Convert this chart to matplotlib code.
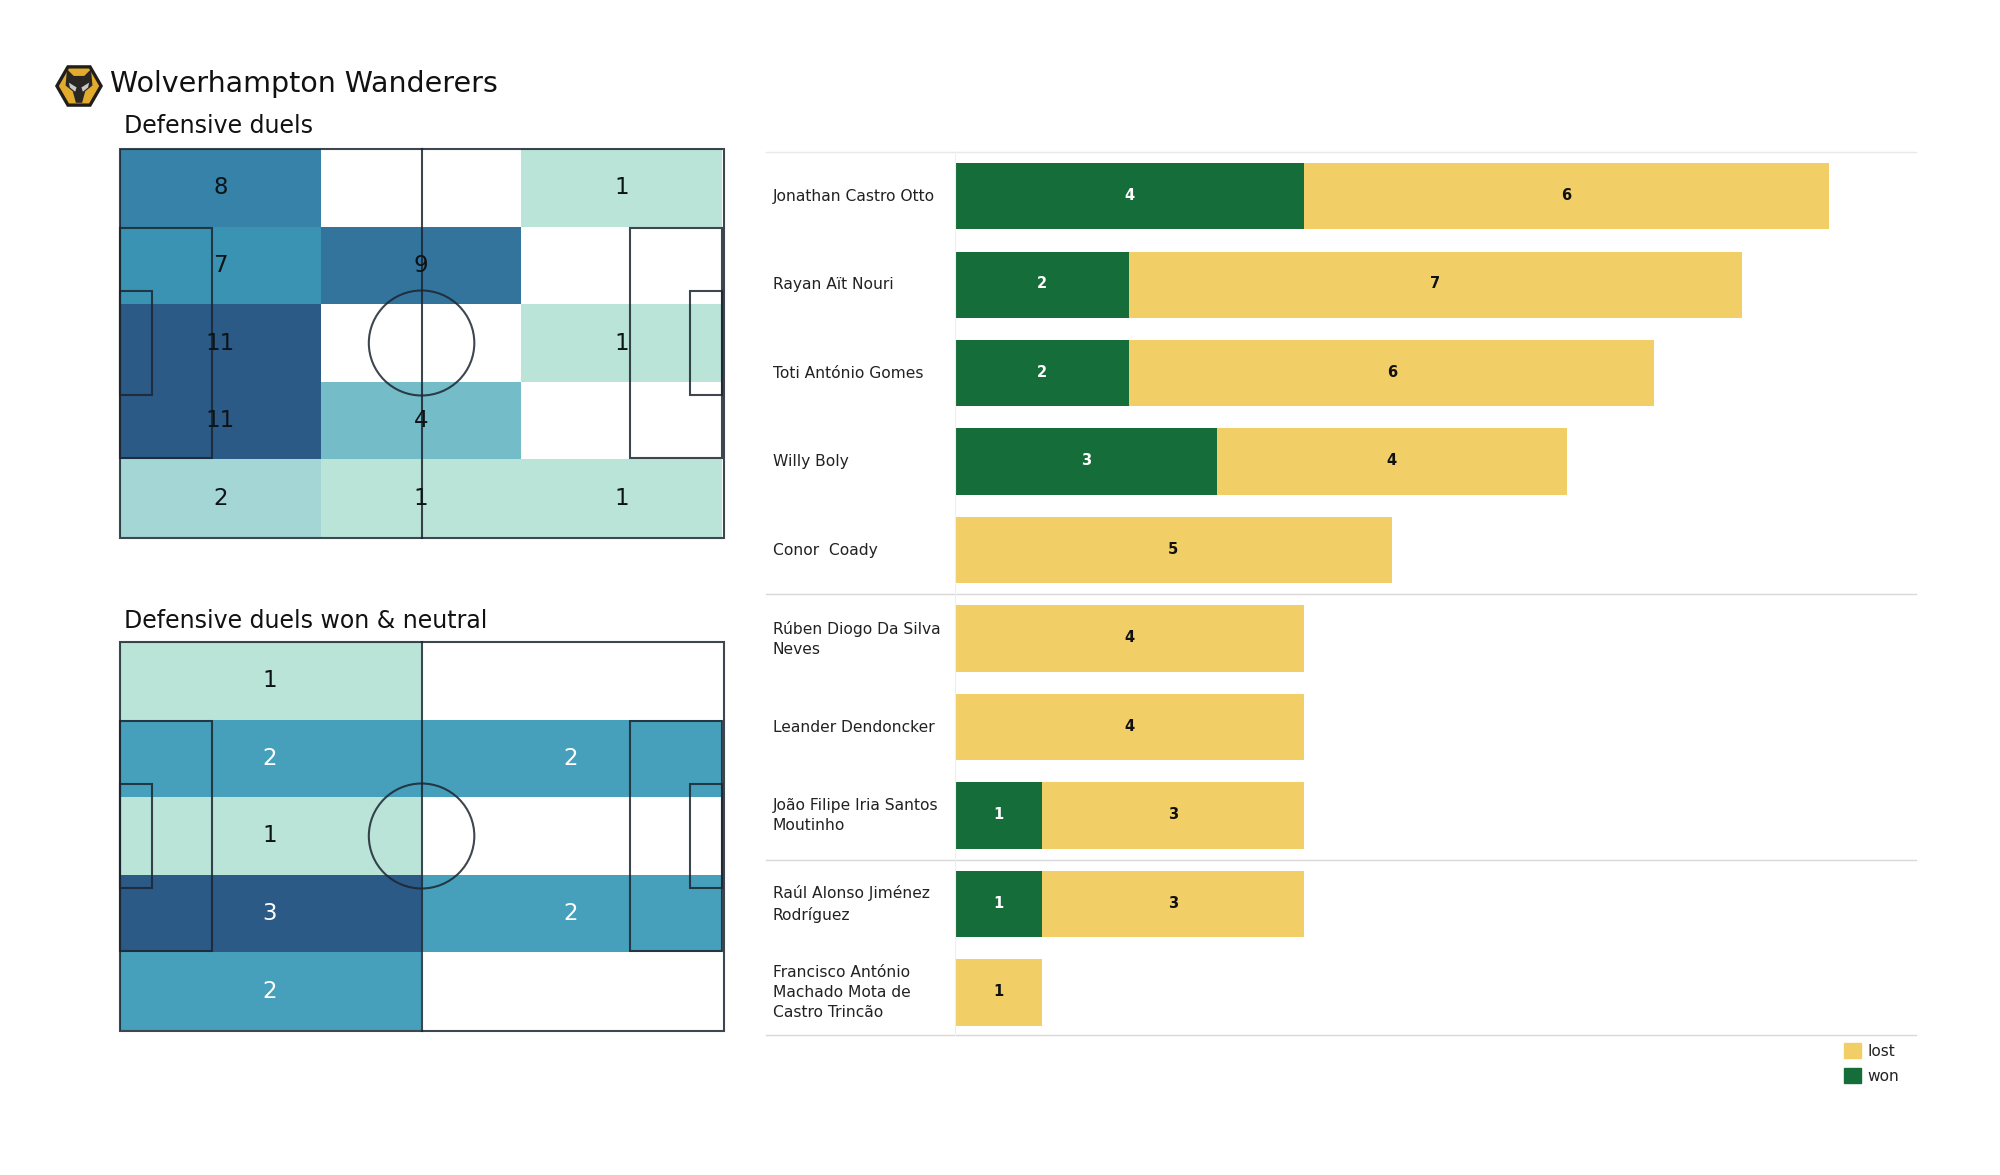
import numpy as np
import matplotlib
matplotlib.use("Agg")
import matplotlib.pyplot as plt
from matplotlib.colors import LinearSegmentedColormap, Normalize
from matplotlib.patches import Rectangle, Circle, Polygon, Patch

team = "Wolverhampton Wanderers"
title_all = "Defensive duels"
title_won = "Defensive duels won & neutral"

duels_all = [[8, 0, 1], [7, 9, 0], [11, 0, 1], [11, 4, 0], [2, 1, 1]]
duels_won = [[1, 0], [2, 2], [1, 0], [3, 2], [2, 0]]

players = ["Jonathan Castro Otto", "Rayan Aït Nouri", "Toti António Gomes", "Willy Boly",
           "Conor  Coady", "Rúben Diogo Da Silva\nNeves", "Leander Dendoncker",
           "João Filipe Iria Santos\nMoutinho", "Raúl Alonso Jiménez\nRodríguez",
           "Francisco António\nMachado Mota de\nCastro Trincão"]
won = [4, 2, 2, 3, 0, 0, 0, 1, 1, 0]
lost = [6, 7, 6, 4, 5, 4, 4, 3, 3, 1]
group_breaks = [4.5, 7.5]

GREEN, YELLOW = "#156d39", "#f2cf66"
W, H = 2000, 1175
UNIT = 87.45
cmap = LinearSegmentedColormap.from_list("duels", [
    (0.0, "#bae4d8"), (0.1, "#a3d6d4"), (0.3, "#75bcc9"), (0.5, "#47a0bb"),
    (0.6, "#3b93b3"), (0.7, "#3682a8"), (0.8, "#33749d"), (1.0, "#2b5a87")])

fig = plt.figure(figsize=(W / 100, H / 100), dpi=100, facecolor="white")

def axpx(x0, y0, x1, y1):
    return fig.add_axes([x0 / W, 1 - y1 / H, (x1 - x0) / W, (y1 - y0) / H])

def draw_pitch(ax):
    lc = "#1c2630"
    kw = dict(fill=False, ec=lc, lw=1.5, zorder=3, alpha=0.85)
    ax.add_patch(Rectangle((0, 0), 105.3, 68.2, **kw))
    ax.plot([52.6, 52.6], [0, 68.2], color=lc, lw=1.5, zorder=3, alpha=0.85)
    ax.add_patch(Circle((52.6, 34), 9.2, **kw))
    for x, w in [(0, 16.0), (105 - 16.0, 16.0), (0, 5.6), (105 - 5.6, 5.6)]:
        h = 40.3 if w > 10 else 18.3
        ax.add_patch(Rectangle((x, 34 - h / 2), w, h, **kw))

def heat(box, grid, white_from, dx=0.0):
    ax = axpx(*box)
    g = np.array(grid, float)
    rows, cols = g.shape
    xe = np.linspace(0, 105, cols + 1)
    ye = np.linspace(0, 68, rows + 1)
    m = np.ma.masked_where(g == 0, g)
    ax.pcolormesh(xe, ye, m, cmap=cmap, norm=Normalize(1, g.max()), zorder=1)
    for r in range(rows):
        for c in range(cols):
            if g[r, c] > 0:
                col = "white" if g[r, c] >= white_from else "#0d1418"
                ax.text((xe[c] + xe[c + 1]) / 2 + dx, (ye[r] + ye[r + 1]) / 2, f"{int(g[r, c])}",
                        ha="center", va="center", fontsize=16.5, color=col, zorder=4)
    draw_pitch(ax)
    ax.set_xlim(0, 105)
    ax.set_ylim(68, 0)
    ax.axis("off")
    for a in ax.patches:
        a.set_clip_on(False)
    for a in ax.lines:
        a.set_clip_on(False)
    return ax

heat((120, 149, 722, 537), duels_all, 99)
heat((120, 642, 722, 1030), duels_won, 2, dx=-0.2)

# bars
ax = axpx(954.5, 152, 1916, 1035)
y = np.arange(len(players))
ax.barh(y, won, height=0.75, color=GREEN, label="won")
ax.barh(y, lost, left=won, height=0.75, color=YELLOW, label="lost")
for i, (a, b) in enumerate(zip(won, lost)):
    if a:
        ax.text(a / 2, i - 0.01, str(a), ha="center", va="center", color="white", fontsize=10.5, fontweight="bold")
    if b:
        ax.text(a + b / 2, i - 0.01, str(b), ha="center", va="center", color="#111111", fontsize=10.5, fontweight="bold")
ax.set_xlim(0, 961.5 / UNIT)
ax.set_ylim(9.48, -0.5)
ax.set_xticks([])
ax.set_yticks(y)
ax.set_yticklabels(players, fontsize=11.2, color="#222222", ha="left", va="center", linespacing=1.43)
ax.tick_params(axis="y", length=0, pad=131)
for s in ["top", "right", "bottom"]:
    ax.spines[s].set_visible(False)
ax.spines["left"].set_color("#eeeeee")
ax.spines["left"].set_linewidth(0.8)
for yy in [-0.5] + group_breaks + [9.48]:
    c = "#e8e8e8" if yy == -0.5 else "#d8d8d8"
    ax.plot([-188.5 / UNIT, 961.5 / UNIT], [yy, yy], color=c, lw=1.0, clip_on=False, zorder=0)

h = [Patch(color=YELLOW, label="lost"), Patch(color=GREEN, label="won")]
fig.legend(handles=h, loc="upper left", bbox_to_anchor=(1832 / W, 1 - 1031 / H), frameon=False,
           fontsize=11.1, handlelength=1.08, handleheight=1.08, handletextpad=0.42, labelspacing=0.62,
           borderpad=0.3, labelcolor="#222222")

# titles
fig.text(110 / W, 1 - 84.5 / H, team, fontsize=20.5, color="#111111", ha="left", va="center")
fig.text(124 / W, 1 - 126 / H, title_all, fontsize=17, color="#111111", ha="left", va="center")
fig.text(124 / W, 1 - 620.5 / H, title_won, fontsize=17, color="#111111", ha="left", va="center")

# crest
lg = axpx(55, 62, 103, 110)
lg.set_xlim(-1, 1); lg.set_ylim(-1, 1); lg.axis("off")
hexa = lambda r: [(r * np.cos(a), r * np.sin(a)) for a in np.deg2rad(np.arange(0, 360, 60))]
lg.add_patch(Polygon(hexa(1.0), fc="#201d1a", ec="none"))
lg.add_patch(Polygon(hexa(0.84), fc="#e3ab2e", ec="none"))
lg.add_patch(Polygon([(-0.5, 0.7), (-0.22, 0.42), (0.22, 0.42), (0.5, 0.7), (0.56, 0.02), (0.26, -0.22),
                      (0.13, -0.7), (-0.13, -0.7), (-0.26, -0.22), (-0.56, 0.02)], fc="#2a2623", ec="none"))
lg.add_patch(Polygon([(-0.42, 0.14), (-0.1, -0.06), (-0.16, -0.24), (-0.38, -0.06)], fc="#c9c9c9", ec="none"))
lg.add_patch(Polygon([(0.42, 0.14), (0.1, -0.06), (0.16, -0.24), (0.38, -0.06)], fc="#c9c9c9", ec="none"))

fig.savefig("out.png", dpi=100, facecolor="white")
